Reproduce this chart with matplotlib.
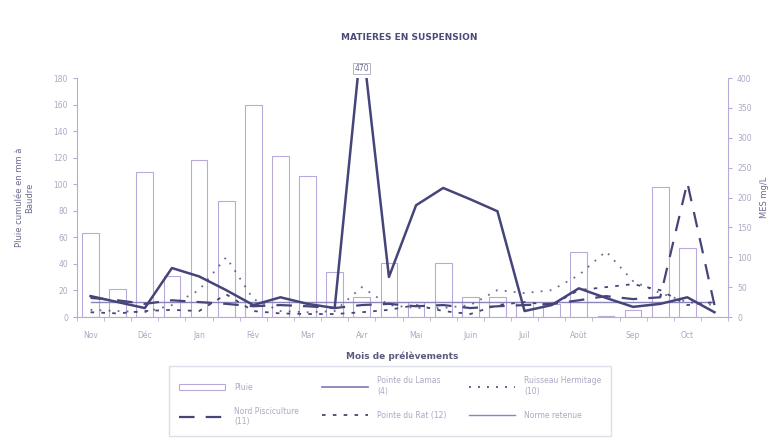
import numpy as np
import matplotlib
matplotlib.use("Agg")
import matplotlib.pyplot as plt
from matplotlib.lines import Line2D
from matplotlib.patches import Patch

# ---- data ----
month_labels = ["Nov", "", "Déc", "", "Jan", "", "Fév", "", "Mar", "", "Avr", "",
                "Mai", "", "Juin", "", "Juil", "", "Août", "", "Sep", "", "Oct", ""]
pluie = [63, 21, 109, 31, 118, 87, 160, 121, 106, 34, 15, 41,
         11, 41, 15, 15, 11, 10, 49, 1, 5, 98, 52, 0]
s4 = [35, 25, 15, 82, 68, 45, 20, 33, 22, 15, 470, 67,
      187, 216, 197, 177, 10, 20, 48, 32, 17, 22, 33, 8]
s10 = [12, 10, 8, 20, 45, 100, 30, 10, 8, 10, 50, 20,
       15, 15, 20, 45, 40, 45, 70, 110, 60, 40, 25, 20]
s11 = [32, 28, 22, 28, 25, 22, 18, 20, 18, 15, 20, 22,
       18, 20, 15, 18, 20, 22, 28, 35, 30, 33, 225, 20]
s12 = [8, 6, 10, 12, 10, 38, 10, 6, 5, 5, 8, 12,
       20, 10, 5, 20, 25, 20, 45, 50, 55, 45, 20, 25]
norme = [25] * 24

legend_labels = ["Pluie", "Pointe du Lamas\n(4)", "Ruisseau Hermitage\n(10)",
                 "Nord Pisciculture\n(11)", "Pointe du Rat (12)", "Norme retenue"]

line_col = "#45457a"
light = "#a9a9c4"
bar_edge = "#b9a9da"

fig = plt.figure(figsize=(7.73, 4.45), dpi=100)
ax = fig.add_axes([0.0996, 0.2876, 0.8422, 0.5371])
x = np.arange(len(pluie))

ax.bar(x, pluie, width=0.62, facecolor="white", edgecolor=bar_edge, linewidth=0.8)
ax.set_xlim(-0.5, len(pluie) - 0.5)
ax.set_ylim(0, 180)
ax.set_yticks(np.arange(0, 181, 20))
ax.set_xticks(x)
ax.set_xticklabels(month_labels)
ax.tick_params(axis="x", length=0, labelsize=5.5, colors=light, pad=10)
ax.set_xticks(np.arange(-0.5, len(pluie), 1), minor=True)
ax.tick_params(axis="x", which="minor", length=3, color=bar_edge)
ax.tick_params(axis="y", labelsize=5.5, colors=light, length=3, color=bar_edge)
for s in ["top", "right"]:
    ax.spines[s].set_visible(False)
ax.spines["left"].set_color(bar_edge)
ax.spines["bottom"].set_color(bar_edge)
ax.set_ylabel("Pluie cumulée en mm à\nBaudre", fontsize=6, color="#6a6a90", labelpad=14)
ax.set_xlabel("Mois de prélèvements", fontsize=6.5, color="#5a5a80",
              fontweight="bold", labelpad=8)

ax2 = ax.twinx()
ax2.set_ylim(0, 400)
ax2.set_yticks(np.arange(0, 401, 50))
ax2.tick_params(axis="y", labelsize=5.5, colors=light, length=3, color=bar_edge)
for s in ["top", "left", "bottom"]:
    ax2.spines[s].set_visible(False)
ax2.spines["right"].set_color(bar_edge)
ax2.set_ylabel("MES mg/L", fontsize=6, color="#6a6a90", labelpad=6)

ax2.plot(x, norme, color="#8a84b8", linewidth=1.0)
ax2.plot(x, s12, color=line_col, linewidth=1.3, linestyle=(0, (2, 4)))
ax2.plot(x, s10, color=line_col, linewidth=1.3, linestyle=(0, (1, 4)), alpha=0.8)
ax2.plot(x, s11, color=line_col, linewidth=1.6, linestyle=(0, (7, 5)))
ax2.plot(x, s4, color=line_col, linewidth=1.8)

ax2.text(10, 408, "470", ha="center", va="bottom", fontsize=5.5, color="#6a6a90",
         bbox=dict(boxstyle="square,pad=0.15", facecolor="white", edgecolor=light,
                   linewidth=0.6), clip_on=False)

fig.text(0.53, 0.915, "MATIERES EN SUSPENSION", ha="center", va="center",
         fontsize=6.5, fontweight="bold", color="#4a4a7c")

handles = [
    Patch(facecolor="white", edgecolor=bar_edge, linewidth=0.8),
    Line2D([], [], color="#8a84b8", linewidth=1.3),
    Line2D([], [], color=line_col, linewidth=1.3, linestyle=(0, (1, 4))),
    Line2D([], [], color=line_col, linewidth=1.6, linestyle=(0, (7, 5))),
    Line2D([], [], color=line_col, linewidth=1.3, linestyle=(0, (2, 4))),
    Line2D([], [], color="#8a84b8", linewidth=1.0),
]
order = [0, 3, 1, 4, 2, 5]
leg = fig.legend([handles[i] for i in order], [legend_labels[i] for i in order],
                 loc="upper center", bbox_to_anchor=(0.505, 0.185), ncol=3,
                 fontsize=5.5, frameon=True, fancybox=False, edgecolor="#d8d8e4",
                 handlelength=6, columnspacing=3.0, labelspacing=2.0,
                 borderpad=1.3, handletextpad=1.2)
for t in leg.get_texts():
    t.set_color(light)

fig.savefig("out.png", dpi=100, facecolor="white")
